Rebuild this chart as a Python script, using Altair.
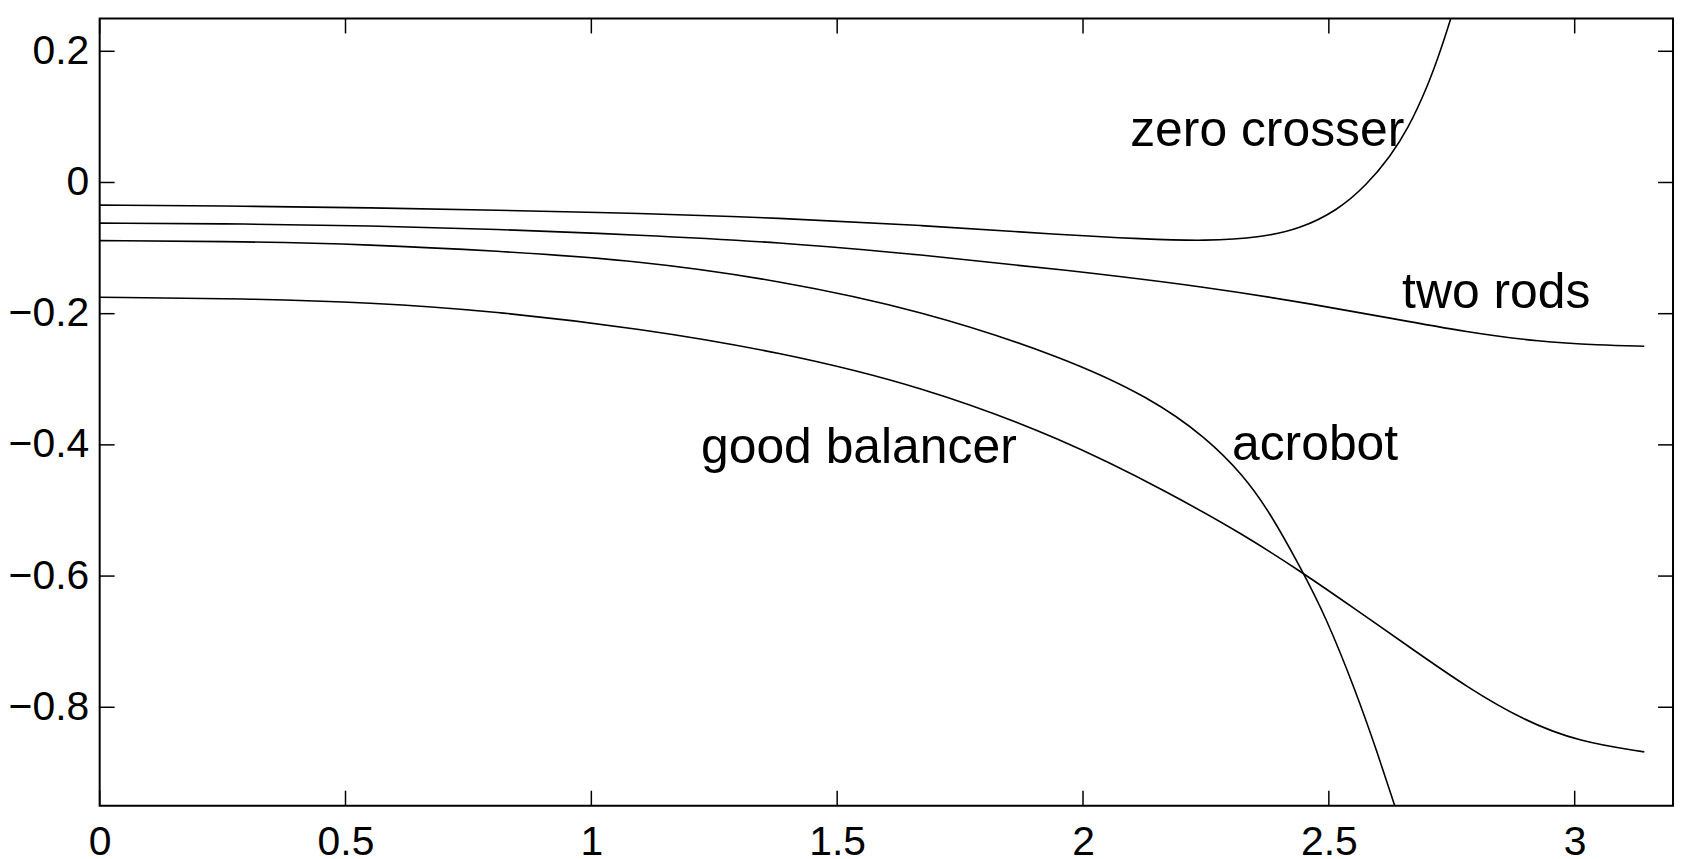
import altair as alt
import pandas as pd

# ---- data ----
x_zero = [0, 0.3, 0.55, 0.8, 1.1, 1.38, 1.67, 1.96, 2.12, 2.25, 2.365, 2.44, 2.517, 2.577, 2.625, 2.66, 2.703, 2.729, 2.748]
y_zero = [-0.0345, -0.036, -0.0385, -0.042, -0.047, -0.054, -0.065, -0.080, -0.086, -0.0895, -0.0835, -0.071, -0.043, -0.004, 0.040, 0.080, 0.150, 0.205, 0.25]

x_rods = [0, 0.3, 0.55, 0.8, 1.1, 1.38, 1.67, 1.96, 2.25, 2.48, 2.63, 2.78, 2.93, 3.05, 3.1416]
y_rods = [-0.062, -0.063, -0.066, -0.071, -0.080, -0.091, -0.110, -0.133, -0.159, -0.187, -0.2076, -0.228, -0.243, -0.248, -0.2496]

x_acro = [0, 0.3, 0.55, 0.8, 1.1, 1.38, 1.67, 1.96, 2.137, 2.251, 2.327, 2.38, 2.441, 2.494, 2.555, 2.60, 2.634]
y_acro = [-0.0886, -0.090, -0.0947, -0.104, -0.119, -0.149, -0.1945, -0.266, -0.328, -0.389, -0.447, -0.503, -0.585, -0.662, -0.776, -0.872, -0.95]

x_good = [0, 0.3, 0.55, 0.8, 1.1, 1.38, 1.67, 1.96, 2.175, 2.327, 2.441, 2.555, 2.669, 2.782, 2.896, 3.010, 3.1416]
y_good = [-0.175, -0.177, -0.183, -0.196, -0.2226, -0.258, -0.310, -0.391, -0.473, -0.537, -0.592, -0.651, -0.711, -0.770, -0.820, -0.853, -0.868]

label_text = ["zero crosser", "two rods", "acrobot", "good balancer"]
label_x = [2.096, 2.649, 2.303, 1.223]
label_y = [0.0562, -0.1915, -0.4225, -0.427]

x_ticks = [0, 0.5, 1, 1.5, 2, 2.5, 3]
y_ticks = [-0.8, -0.6, -0.4, -0.2, 0, 0.2]

# ---- tables ----
rows = []
for name, xs, ys in [("zero crosser", x_zero, y_zero), ("two rods", x_rods, y_rods),
                     ("acrobot", x_acro, y_acro), ("good balancer", x_good, y_good)]:
    for a, b in zip(xs, ys):
        rows.append({"series": name, "x": a, "y": b})
df = pd.DataFrame(rows)
df_lab = pd.DataFrame({"text": label_text, "x": label_x, "y": label_y})
df_xt = pd.DataFrame({"x": x_ticks})
df_yt = pd.DataFrame({"y": y_ticks})

W, H = 1579, 790
FONT = "Liberation Sans"

xscale = alt.Scale(domain=[0, 3.2], nice=False, zero=False)
yscale = alt.Scale(domain=[-0.95, 0.25], nice=False, zero=False)

xaxis = alt.Axis(values=x_ticks, format="~g", title=None, grid=False, ticks=False, tickSize=0,
                 domain=False, labelFontSize=41, labelFont=FONT, labelColor="black",
                 labelPadding=17, labelFlush=False, labelOverlap=False)
yaxis = alt.Axis(values=y_ticks, format="~g", title=None, grid=False, ticks=False, tickSize=0,
                 domain=False, labelFontSize=41, labelFont=FONT, labelColor="black",
                 labelPadding=11, labelFlush=False, labelOverlap=False)

X = alt.X("x:Q", scale=xscale, axis=xaxis)
Y = alt.Y("y:Q", scale=yscale, axis=yaxis)

lines = alt.Chart(df).mark_line(color="black", strokeWidth=1.6, interpolate="basis", clip=True).encode(
    x=X, y=Y, detail="series:N"
)

labels = alt.Chart(df_lab).mark_text(align="left", baseline="alphabetic", fontSize=50, font=FONT,
                                     color="black").encode(x=X, y=Y, text="text:N")

TL = 15
xt_bottom = alt.Chart(df_xt).mark_rule(color="black", strokeWidth=1.5).encode(
    x=X, y=alt.value(H), y2=alt.value(H - TL))
xt_top = alt.Chart(df_xt).mark_rule(color="black", strokeWidth=1.5).encode(
    x=X, y=alt.value(0), y2=alt.value(TL))
yt_left = alt.Chart(df_yt).mark_rule(color="black", strokeWidth=1.5).encode(
    y=Y, x=alt.value(0), x2=alt.value(TL))
yt_right = alt.Chart(df_yt).mark_rule(color="black", strokeWidth=1.5).encode(
    y=Y, x=alt.value(W), x2=alt.value(W - TL))

chart = alt.layer(lines, xt_bottom, xt_top, yt_left, yt_right, labels).properties(
    width=W, height=H,
    padding={"left": 92, "top": 9, "right": 5, "bottom": 51},
    autosize=alt.AutoSizeParams(type="none"),
    background="white",
).configure_view(stroke="black", strokeWidth=2)

chart.save("out.html", embed_options={"renderer": "svg", "actions": False})
